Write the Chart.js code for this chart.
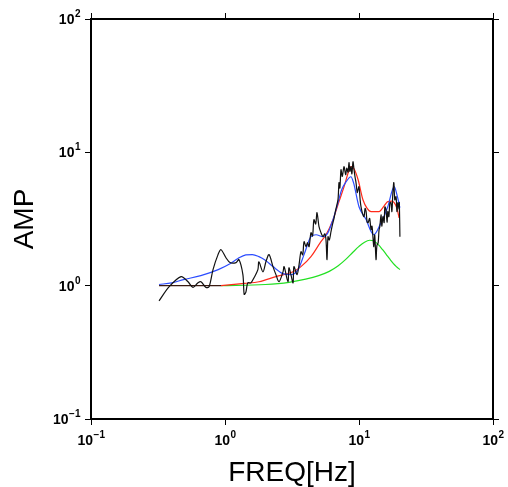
<!DOCTYPE html>
<html lang="en">
<head>
<meta charset="UTF-8">
<title>AMP vs FREQ</title>
<script src="https://cdn.jsdelivr.net/npm/chart.js"></script>
<style>
  body { margin: 0; background: #fff; }
  canvas { display: block; }
</style>
</head>
<body>
<canvas id="myChart" width="508" height="487"></canvas>
<script>
// observed spectrum (black)
const obsFreq = [0.322, 0.382, 0.47, 0.53, 0.577, 0.629, 0.662, 0.721, 0.76, 0.814, 0.887, 0.934, 1.017, 1.09, 1.21, 1.27, 1.36, 1.39, 1.43, 1.48,
  1.56, 1.65, 1.76, 1.79, 1.92, 2.02, 2.13, 2.28, 2.4, 2.53, 2.71, 2.76, 2.95, 3.0, 3.11, 3.22, 3.27, 3.45, 3.57, 3.69,
  3.8, 3.89, 4.02, 4.13, 4.24, 4.38, 4.5, 4.61, 4.75, 4.86, 5.03, 5.2, 5.39, 5.55, 5.67, 5.77, 5.87, 6.0, 6.18, 6.35,
  6.51, 6.7, 6.97, 7.09, 7.2, 7.34, 7.5, 7.73, 7.95, 8.1, 8.28, 8.42, 8.55, 8.71, 8.85, 9.02, 9.18, 9.35, 9.5, 9.7,
  9.84, 10.0, 10.2, 10.35, 10.6, 10.9, 11.1, 11.3, 11.5, 11.7, 12.0, 12.3, 12.5, 12.7, 12.9, 13.1, 13.4, 13.6, 13.9, 14.1,
  14.3, 14.6, 14.8, 15.1, 15.4, 15.6, 15.9, 16.2, 16.4, 16.7, 17.0, 17.3, 17.6, 17.9, 18.2, 18.5, 18.9, 19.2, 19.5, 19.9,
  20.0, 20.2];
const obsAmp = [0.77, 0.98, 1.17, 1.07, 0.97, 1.05, 1.07, 0.97, 0.98, 1.32, 1.71, 1.86, 1.62, 1.49, 1.49, 1.57, 1.21, 0.86, 0.89, 1.05,
  1.05, 1.15, 1.32, 1.51, 1.27, 1.51, 1.71, 1.39, 1.21, 1.07, 1.27, 1.39, 1.07, 1.36, 1.2, 1.05, 1.39, 1.21, 1.44, 1.8,
  1.7, 2.14, 1.96, 2.1, 1.96, 2.5, 2.35, 3.13, 2.9, 3.53, 2.77, 2.5, 2.33, 2.45, 2.21, 1.57, 2.33, 2.2, 2.54, 2.9,
  3.2, 3.7, 4.42, 5.93, 5.4, 7.41, 6.6, 7.81, 6.8, 7.6, 7.1, 8.37, 7.2, 7.81, 6.9, 8.51, 7.41, 6.5, 5.93, 5.0,
  5.25, 5.53, 4.4, 3.91, 3.5, 3.29, 3.8, 3.59, 3.0, 2.97, 3.2, 2.63, 2.8, 2.33, 1.96, 2.4, 1.57, 2.0, 2.1, 2.6,
  2.77, 3.4, 2.8, 3.29, 2.97, 3.9, 3.72, 3.0, 3.6, 3.29, 4.2, 4.19, 3.6, 4.98, 5.93, 4.4, 4.65, 3.6, 4.19, 3.72,
  4.2, 2.33];

// flat reference below 1 Hz (dark)
const baseFreq = [0.322, 0.934];
const baseAmp = [1.0, 1.0];

// blue model
const blueFreq = [0.322, 0.4, 0.49, 0.66, 0.89, 1.09, 1.25, 1.43, 1.6, 1.79, 2.0, 2.28, 2.71, 3.11, 3.51, 3.89, 4.38, 4.78, 5.39, 5.87,
  6.4, 6.97, 7.4, 8.0, 8.7, 9.1, 10.0, 11.3, 12.3, 12.9, 14.6, 16.4, 18.3, 19.2, 20.2];
const blueAmp = [1.02, 1.05, 1.11, 1.19, 1.32, 1.46, 1.6, 1.7, 1.71, 1.65, 1.55, 1.39, 1.23, 1.21, 1.32, 1.71, 2.33, 2.41, 2.33, 2.5,
  3.13, 4.19, 5.2, 6.0, 6.56, 5.92, 3.91, 3.13, 2.55, 2.41, 2.97, 3.91, 5.53, 4.8, 3.84];

// red model
const redFreq = [0.934, 1.4, 1.79, 2.4, 3.22, 3.69, 4.38, 5.2, 5.67, 6.4, 7.09, 7.74, 8.42, 8.8, 9.2, 9.85, 10.7, 11.5, 12.3, 14.1,
  15.5, 16.4, 17.5, 18.3, 19.2, 19.9];
const redAmp = [1.0, 1.04, 1.07, 1.17, 1.27, 1.39, 1.65, 2.14, 2.41, 3.13, 4.27, 5.53, 7.3, 7.8, 7.5, 6.23, 4.41, 3.8, 3.59, 3.59,
  4.0, 4.27, 4.3, 4.19, 3.8, 3.23];

// green model
const greenFreq = [0.934, 2.0, 3.0, 4.0, 5.0, 6.0, 7.0, 8.0, 9.0, 10.0, 11.0, 12.0, 13.0, 14.0, 15.0, 16.0, 17.0, 18.0, 19.0, 20.2];
const greenAmp = [1.0, 1.02, 1.06, 1.12, 1.19, 1.28, 1.41, 1.58, 1.78, 1.97, 2.12, 2.19, 2.15, 2.02, 1.86, 1.71, 1.58, 1.47, 1.39, 1.32];

const tickVals = [0.1, 1, 10, 100];
const tickExps = ['\u22121', '0', '1', '2'];

const toPts = (xs, ys) => xs.map((x, i) => ({ x: x, y: ys[i] }));

const fixTicks = s => { s.ticks = tickVals.map(v => ({ value: v })); };
const zeroW = s => { s.width = 0; };
const zeroH = s => { s.height = 0; };

function axis(pos, fit) {
  return {
    type: 'logarithmic',
    position: pos,
    min: 0.1,
    max: 100,
    afterBuildTicks: fixTicks,
    afterFit: fit,
    ticks: { display: false },
    grid: { display: true, drawOnChartArea: false, drawTicks: true, tickLength: 6, color: '#000', lineWidth: 1 },
    border: { display: true, color: '#000', width: 2 }
  };
}

const mFont = 'bold 14px "Liberation Sans", Arial, sans-serif';
const eFont = 'bold 10px "Liberation Sans", Arial, sans-serif';

// tick labels like 10^n and axis titles
const labelPlugin = {
  id: 'labels',
  afterDraw(chart) {
    const ctx = chart.ctx;
    const xs = chart.scales.x, ys = chart.scales.y;
    ctx.save();
    ctx.fillStyle = '#000';
    ctx.textAlign = 'left';
    ctx.textBaseline = 'alphabetic';
    tickVals.forEach((v, i) => {
      ctx.font = mFont;
      const wm = ctx.measureText('10').width;
      ctx.font = eFont;
      const we = ctx.measureText(tickExps[i]).width;
      // x axis
      let px = xs.getPixelForValue(v) - (wm + we) / 2;
      ctx.font = mFont;
      ctx.fillText('10', px, 445);
      ctx.font = eFont;
      ctx.fillText(tickExps[i], px + wm + 0.5, 438);
      // y axis
      const py = ys.getPixelForValue(v);
      px = 80 - (wm + we);
      ctx.font = mFont;
      ctx.fillText('10', px, py + 5);
      ctx.font = eFont;
      ctx.fillText(tickExps[i], px + wm + 0.5, py - 2);
    });
    ctx.font = '28px "Liberation Sans", Arial, sans-serif';
    ctx.textAlign = 'center';
    ctx.fillText('FREQ[Hz]', 292, 481);
    ctx.translate(33, 219);
    ctx.rotate(-Math.PI / 2);
    ctx.fillText('AMP', 0, 0);
    ctx.restore();
  }
};

const ctx = document.getElementById('myChart').getContext('2d');
new Chart(ctx, {
  type: 'line',
  data: {
    datasets: [
      { label: 'obs', data: toPts(obsFreq, obsAmp), borderColor: '#111', borderWidth: 1.2, tension: 0.3 },
      { label: 'blue', data: toPts(blueFreq, blueAmp), borderColor: '#2b4cff', borderWidth: 1.2, cubicInterpolationMode: 'monotone' },
      { label: 'red', data: toPts(redFreq, redAmp), borderColor: '#ff2a1a', borderWidth: 1.2, cubicInterpolationMode: 'monotone' },
      { label: 'green', data: toPts(greenFreq, greenAmp), borderColor: '#22e022', borderWidth: 1.2, cubicInterpolationMode: 'monotone' },
      { label: 'base', data: toPts(baseFreq, baseAmp), borderColor: '#3a1a10', borderWidth: 1.2, tension: 0 }
    ]
  },
  options: {
    responsive: false,
    animation: false,
    parsing: false,
    layout: { padding: { left: 91, right: 15, top: 19, bottom: 68 } },
    elements: { point: { radius: 0 } },
    plugins: { legend: { display: false }, tooltip: { enabled: false } },
    scales: {
      x: axis('bottom', zeroH),
      x2: axis('top', zeroH),
      y: axis('left', zeroW),
      y2: axis('right', zeroW)
    }
  },
  plugins: [labelPlugin]
});
</script>
</body>
</html>
